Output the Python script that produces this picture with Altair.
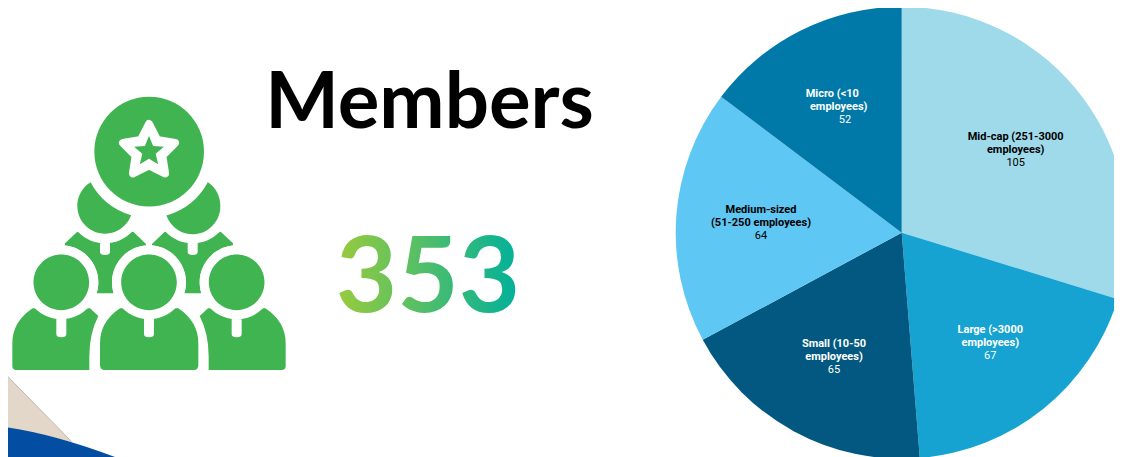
import math
import re
import altair as alt
import pandas as pd

# ---- data ----
segments = ["Mid-cap (251-3000 employees)", "Large (>3000 employees)", "Small (10-50 employees)",
            "Medium-sized (51-250 employees)", "Micro (<10 employees)"]
members = [105, 67, 65, 64, 52]
seg_colors = ["#9FDAEA", "#16A3D1", "#025880", "#5EC7F3", "#0179A8"]
label_lines = ["Mid-cap (251-3000", "employees)", "Large (>3000", "employees)", "Small (10-50", "employees)",
               "Medium-sized", "(51-250 employees)", "Micro (<10", "employees)"]
label_x = [1015.7, 1015.7, 990.3, 990.3, 834, 834, 761, 761, 832.3, 838.7]
label_y = [139.5, 152.5, 333.3, 346.3, 347.3, 360.3, 212.7, 225.7, 97, 110]
label_fill = ["#000000", "#000000", "#ffffff", "#ffffff", "#ffffff", "#ffffff", "#000000", "#000000", "#ffffff", "#ffffff"]
value_x = [1015.7, 990.3, 834, 761, 845]
value_y = [165.5, 359.3, 373.3, 238.7, 123]
value_fill = ["#000000", "#ffffff", "#ffffff", "#000000", "#ffffff"]

W, H = 1106, 449
xs = alt.Scale(domain=[8, 1114], nice=False, zero=False)
ys = alt.Scale(domain=[457, 8], nice=False, zero=False)
X = lambda f: alt.X(f, type="quantitative", scale=xs, axis=None)
Y = lambda f: alt.Y(f, type="quantitative", scale=ys, axis=None)

# ---- decorative shape helpers: paths are written in 3x crop coordinates around an anchor ----
AX, AY = 149, 240


def T(zx, zy):
    return zx / 3 - AX, 80 + zy / 3 - AY


def path(s):
    return re.sub(r"(-?[\d.]+),(-?[\d.]+)",
                  lambda m: "{:.2f},{:.2f}".format(*T(float(m[1]), float(m[2]))), s)


def circle(cx, cy, r):
    x, y = T(cx, cy)
    r = r / 3
    return f"M{x - r:.2f},{y:.2f}A{r:.2f},{r:.2f} 0 1 1 {x + r:.2f},{y:.2f}A{r:.2f},{r:.2f} 0 1 1 {x - r:.2f},{y:.2f}Z"


def rounded_slot(cx, top, bottom, w=30):
    l, r = cx - w / 2, cx + w / 2
    return path(f"M{l},{top} L{r},{top} L{r},{bottom - 10} Q{r},{bottom} {cx},{bottom} Q{l},{bottom} {l},{bottom - 10} Z")


def star(cx, cy, R, rr):
    pts = []
    for i in range(10):
        a = -math.pi / 2 + i * math.pi / 5
        q = R if i % 2 == 0 else rr
        pts.append(f"{cx + q * math.cos(a):.1f},{cy + q * math.sin(a):.1f}")
    return path("M" + " L".join(pts) + " Z")


GREEN = "#40B450"
WHITE = "#ffffff"
mid_left = "M195,490 L232,455 L400,455 L438,492 L438,640 L195,640 Z"
mid_right = "M699,490 L662,455 L494,455 L456,492 L456,640 L699,640 Z"
side_left = "M37,858 L37,790 Q37,725 98,685 L270,685 L295,708 Q268,760 268,830 L268,870 L49,870 Q37,870 37,858 Z"
side_right = "M857,858 L857,790 Q857,725 796,685 L624,685 L599,708 Q626,760 626,830 L626,870 L845,870 Q857,870 857,858 Z"
centre = "M300,856 L300,790 Q300,725 360,685 L535,685 Q595,725 595,790 L595,856 Q595,870 581,870 L314,870 Q300,870 300,856 Z"

icon_layers = [
    (GREEN, path(mid_left) + path(mid_right), 0),
    (WHITE, circle(315, 378, 112) + circle(578, 378, 112) + rounded_slot(315, 470, 525) + rounded_slot(578, 470, 525), 0),
    (GREEN, circle(315, 378, 83) + circle(578, 378, 83), 0),
    (WHITE, circle(447.5, 215, 198), 0),
    (GREEN, circle(447.5, 215, 164.5), 0),
    (WHITE, star(447, 214, 82, 42), 8),
    (GREEN, star(447, 215, 47, 21), 0),
    (WHITE, circle(184, 607, 111) + circle(447, 607, 111) + circle(710, 607, 111), 0),
    (GREEN, path(side_left) + path(side_right) + path(centre), 0),
    (WHITE, circle(184, 607, 111) + circle(447, 607, 111) + circle(710, 607, 111)
     + rounded_slot(184, 700, 772) + rounded_slot(447, 700, 772) + rounded_slot(710, 700, 772), 0),
    (GREEN, circle(184, 607, 83.5) + circle(447, 607, 83.5) + circle(710, 607, 83.5), 0),
    # bottom-left corner decoration
    ("#E2D7C8", path("M-30,835 L215,1085 L-30,1060 Z"), 0),
    ("#034EA2", path("M-30,1036 Q130,1050 345,1131 L345,1160 L-30,1160 Z"), 0),
]

anchor = pd.DataFrame({"x": [AX], "y": [AY]})
layers = []

for color, d, sw in icon_layers:
    layers.append(
        alt.Chart(anchor).mark_point(shape=d, size=4, filled=True, fill=color, opacity=1,
                                     stroke=color, strokeWidth=sw, strokeJoin="round")
        .encode(x=X("x"), y=Y("y"))
    )
layers.append(
    alt.Chart(anchor).mark_point(shape=path("M-30,835 L215,1085"), size=4, filled=False, opacity=1,
                                 stroke="#A8A29A", strokeWidth=0.7)
    .encode(x=X("x"), y=Y("y"))
)

# ---- pie ----
pie_df = pd.DataFrame({"segment": segments, "members": members, "idx": range(len(members))})
pie = alt.Chart(pie_df).mark_arc(radius=226, stroke=None).encode(
    theta=alt.Theta("members:Q", stack=True),
    order=alt.Order("idx:Q"),
    color=alt.Color("segment:N", scale=alt.Scale(domain=segments, range=seg_colors), legend=None),
    x=alt.value(893.7),
    y=alt.value(224.7),
)
layers.append(pie)

lab_df = pd.DataFrame({"t": label_lines, "x": label_x, "y": label_y, "c": label_fill})
layers.append(alt.Chart(lab_df).mark_text(font="Roboto", fontSize=11, fontWeight=700, align="center", baseline="alphabetic")
              .encode(x=X("x"), y=Y("y"), text="t:N", color=alt.Color("c:N", scale=None, legend=None)))
val_df = pd.DataFrame({"t": [str(v) for v in members], "x": value_x, "y": value_y, "c": value_fill})
layers.append(alt.Chart(val_df).mark_text(font="Roboto", fontSize=11, fontWeight=400, align="center", baseline="alphabetic")
              .encode(x=X("x"), y=Y("y"), text="t:N", color=alt.Color("c:N", scale=None, legend=None)))

# ---- headline texts ----
title_df = pd.DataFrame({"t": ["Members"], "x": [429.5], "y": [128]})
layers.append(alt.Chart(title_df).mark_text(font="Lato", fontSize=78, fontWeight=700, align="center", baseline="alphabetic", color="#000000")
              .encode(x=X("x"), y=Y("y"), text="t:N"))
total_df = pd.DataFrame({"t": [str(sum(members))], "x": [428], "y": [312]})
layers.append(alt.Chart(total_df).mark_text(font="Lato", fontSize=106, fontWeight=700, align="center", baseline="alphabetic",
                                            fill=alt.LinearGradient(gradient="linear", x1=0, x2=1, y1=0, y2=0,
                                                                    stops=[alt.GradientStop(offset=0, color="#9ACB3C"),
                                                                           alt.GradientStop(offset=1, color="#00B09B")]))
              .encode(x=X("x"), y=Y("y"), text="t:N"))

chart = alt.layer(*layers).properties(
    width=W, height=H, padding=0, autosize=alt.AutoSizeParams(type="none"), background="#ffffff"
).configure_view(stroke=None).resolve_scale(color="independent")

chart.save("out.html", embed_options={"renderer": "svg", "actions": False})
